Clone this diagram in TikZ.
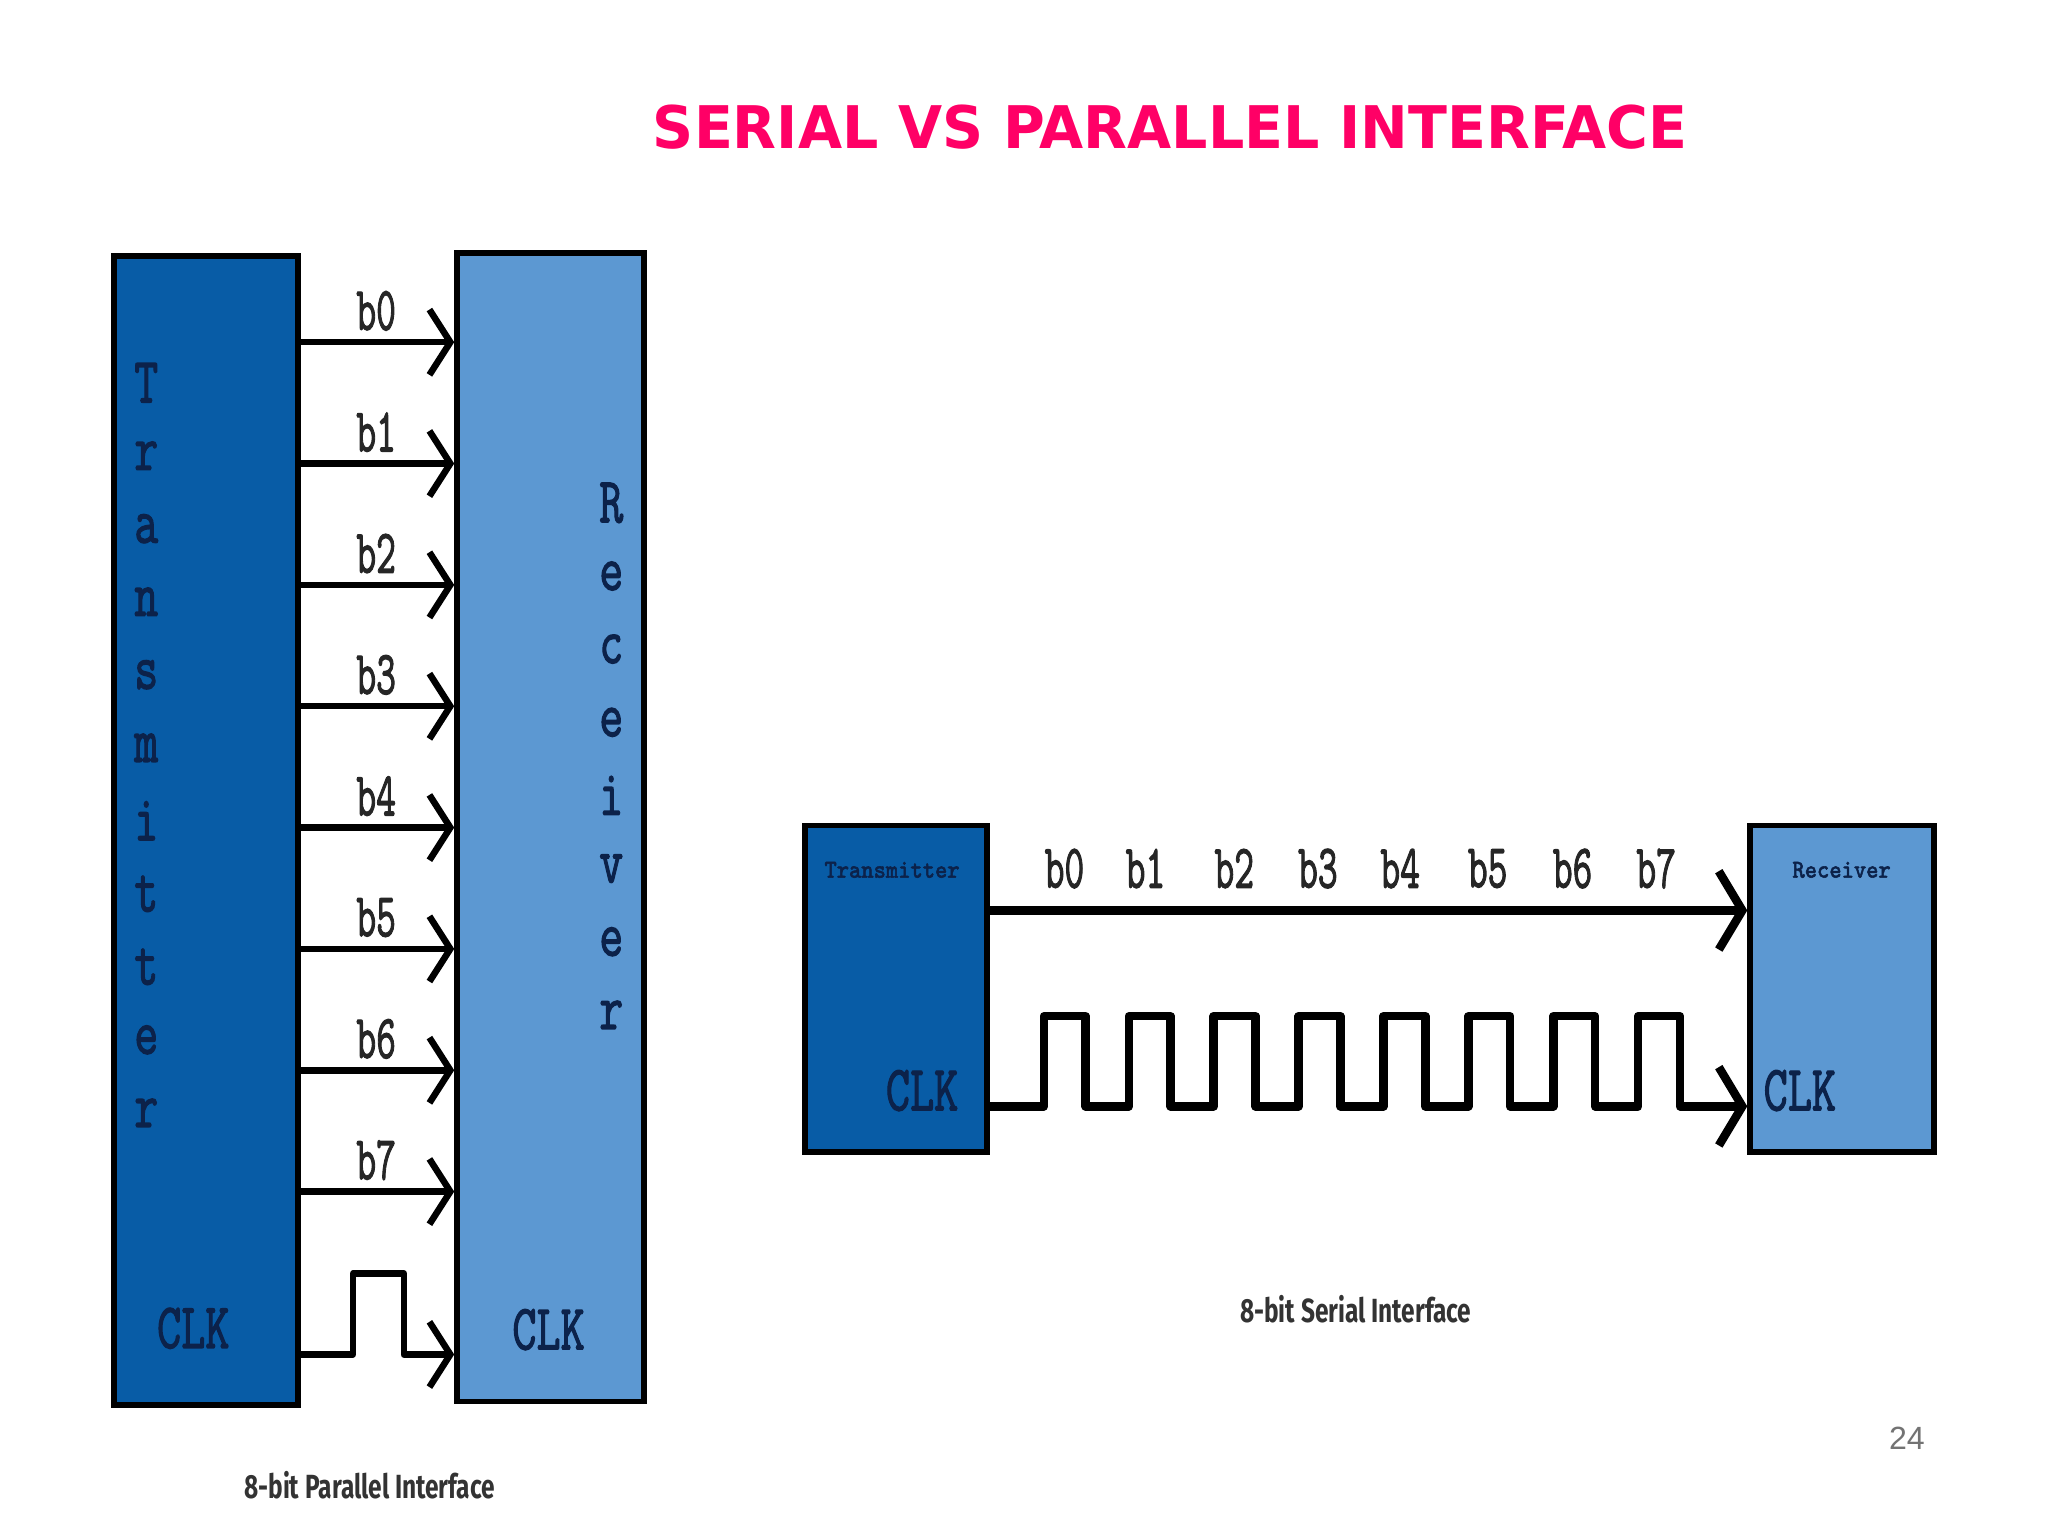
\documentclass[tikz,border=0pt]{standalone}
\usepackage{fontspec}
\setmainfont{Liberation Sans}
\newfontfamily\titlefont{DejaVu Sans}
\newfontfamily\capfont{Fira Sans}
\newfontfamily\codefont[AutoFakeBold=2.2]{Latin Modern Mono}
\usetikzlibrary{arrows.meta,positioning}
\definecolor{titlepink}{RGB}{255,0,102}
\definecolor{txblue}{RGB}{8,92,166}
\definecolor{rxblue}{RGB}{92,152,210}
\definecolor{inkblue}{RGB}{12,34,74}
\newcommand{\condense}[2]{\scalebox{#1}[1]{#2}}
\tikzset{
	txbox/.style={draw=black, line width=0.45mm, fill=txblue, inner sep=0pt},
	rxbox/.style={draw=black, line width=0.45mm, fill=rxblue, inner sep=0pt},
	bus/.style={-{Straight Barb[length=1.6mm,width=5mm]}, line width=0.5mm, line join=round},
	serbus/.style={-{Straight Barb[length=1.8mm,width=6mm]}, line width=0.65mm, line join=round},
	bitname/.style={inner sep=0pt, text=black!85, font=\codefont\bfseries\fontsize{13.5pt}{13.5pt}\selectfont},
	boxtext/.style={inner sep=0pt, text=inkblue, font=\codefont\bfseries\fontsize{14pt}{14pt}\selectfont},
	smalltext/.style={inner sep=0pt, text=inkblue, font=\codefont\bfseries\fontsize{5.6pt}{5.6pt}\selectfont},
	caption/.style={inner sep=0pt, text=black!80, font=\capfont\bfseries\fontsize{7.3pt}{7.3pt}\selectfont}
}
\begin{document}
\begin{tikzpicture}[x=0.1mm, y=-0.1mm]
	\useasboundingbox (0,0) rectangle (1568,1176);
	\node[inner sep=0pt, text=titlepink, font=\titlefont\bfseries\fontsize{12.8pt}{12.8pt}\selectfont] (title) at (896,97) {\condense{0.97}{SERIAL VS PARALLEL INTERFACE}};

	% parallel
	\node[txbox, minimum width=14.1mm, minimum height=88mm] (ptx) at (157.5,636) {};
	\node[rxbox, minimum width=14.3mm, minimum height=87.9mm] (prx) at (421.5,633.5) {};
	\foreach \ch [count=\i from 0] in {T,r,a,n,s,m,i,t,t,e,r}
		\node[boxtext] (pt\i) at (112,293+55.9*\i) {\condense{0.72}{\ch}};
	\foreach \ch [count=\i from 0] in {R,e,c,e,i,v,e,r}
		\node[boxtext] (pr\i) at (468,385+56*\i) {\condense{0.72}{\ch}};
	\node[boxtext] (ptclk) at (148,1017) {\condense{0.73}{CLK}};
	\node[boxtext] (prclk) at (420,1018) {\condense{0.73}{CLK}};
	\foreach \i in {0,...,7} {
		\coordinate (pl\i) at (0,262+92.9*\i);
		\node[bitname] (pb\i) at (288,238+92.9*\i) {\condense{0.62}{b\i}};
		\draw[bus] (ptx.east |- pl\i) -- (prx.west |- pl\i);
	}
	\coordinate (pclk) at (0,1037);
	\draw[bus] (ptx.east |- pclk) -- ++(40,0) -- ++(0,-62) -- ++(39,0) -- ++(0,62) -- (prx.west |- pclk);
	\node[caption] (pcap) at (283,1137) {\condense{0.73}{8-bit Parallel Interface}};

	% serial
	\node[txbox, minimum width=14mm, minimum height=25mm] (stx) at (686,757) {};
	\node[rxbox, minimum width=14.1mm, minimum height=25mm] (srx) at (1410.5,757) {};
	\node[smalltext] (stname) at (683,666) {\condense{0.9}{Transmitter}};
	\node[smalltext] (srname) at (1410,666) {\condense{0.9}{Receiver}};
	\node[boxtext] (stclk) at (706,835) {\condense{0.73}{CLK}};
	\node[boxtext] (srclk) at (1378,835) {\condense{0.73}{CLK}};
	\foreach \x [count=\i from 0] in {815,877,945,1009,1072,1139,1204,1268}
		\node[bitname] (sb\i) at (\x,665) {\condense{0.62}{b\i}};
	\coordinate (sdata) at (0,697);
	\coordinate (sclk) at (0,847);
	\draw[serbus] (stx.east |- sdata) -- (srx.west |- sdata);
	\draw[serbus] (stx.east |- sclk) -- ++(41,0)
		foreach \k in {1,...,8} { -- ++(0,-69) -- ++(32,0) -- ++(0,69) -- ++(33,0) }
		-- (srx.west |- sclk);
	\node[caption] (scap) at (1038,1002) {\condense{0.73}{8-bit Serial Interface}};

	\node[inner sep=0pt, text=black!55, font=\fontsize{7pt}{7pt}\selectfont] (page) at (1460,1101) {24};
\end{tikzpicture}
\end{document}
